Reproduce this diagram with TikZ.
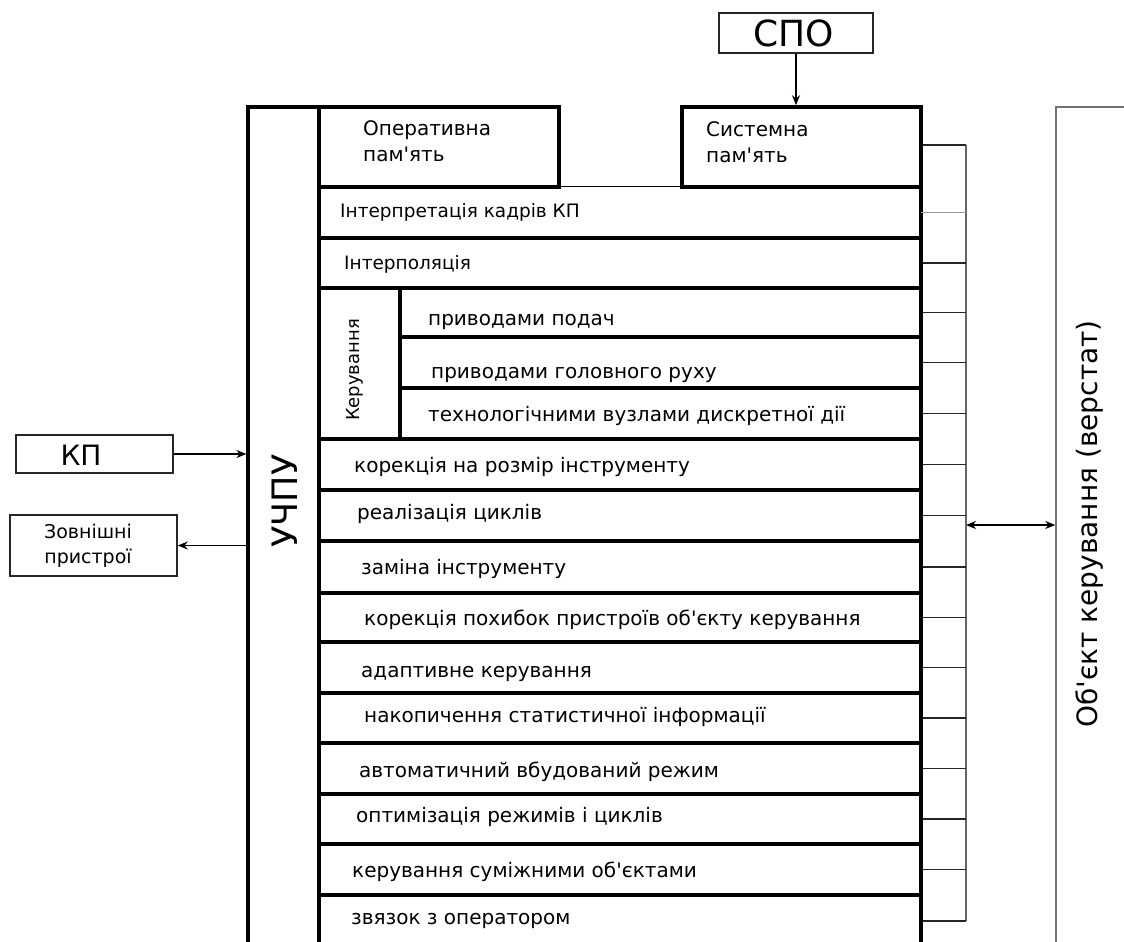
\documentclass[tikz,border=0pt]{standalone}
\usepackage{fontspec}
\newfontfamily\df{DejaVu Sans}
\usetikzlibrary{arrows.meta,fit}
\tikzset{
 bx/.style={draw, rectangle, inner sep=0pt, line width=3.6bp},
 ub/.style={draw, rectangle, inner sep=0pt, line width=3.2bp},
 sb/.style={draw=black!85, rectangle, inner sep=0pt, line width=1.6bp},
 ob/.style={draw=black!55, rectangle, inner sep=0pt, line width=1.5bp},
 tap/.style={draw=black!85, line width=1.6bp},
 ltap/.style={draw=black!40, line width=1.3bp},
 bus/.style={draw=black!60, line width=1.5bp},
 rt/.style={font=\df\fontsize{20bp}{24bp}\selectfont, inner sep=0pt, anchor=base west, yshift=-5.5bp},
 st/.style={font=\df\fontsize{18.5bp}{22bp}\selectfont, inner sep=0pt, anchor=base west, yshift=-5.1bp},
 arr/.style={line width=1.4bp, -{Stealth[length=10bp,width=8bp]}},
 darr/.style={line width=1.4bp, {Stealth[length=10bp,width=8bp]}-{Stealth[length=10bp,width=8bp]}},
}
\begin{document}
\begin{tikzpicture}[x=1bp,y=-1bp]
\useasboundingbox (0,0) rectangle (1124,942);
\clip (0,0) rectangle (1124,942);
\fill[white] (0,0) rectangle (1124,942);

% UCHPU outer block
\node[ub, fit={(248,107) (319,960)}] (uchpu) {};
\node[font=\df\fontsize{35bp}{40bp}\selectfont, rotate=90, inner sep=0pt] (uchput) at (285,501) {УЧПУ};

% memory boxes
\node[bx, fit={(319,107) (559,187)}] (op) {};
\node[font=\df\fontsize{20bp}{26bp}\selectfont, align=left, anchor=west, inner sep=0pt] (opt) at (363,141) {Оперативна\\пам'ять};
\node[bx, fit={(682,107) (921,187)}] (sys) {};
\node[font=\df\fontsize{20bp}{26bp}\selectfont, align=left, anchor=west, inner sep=0pt] (syst) at (706,142) {Системна\\пам'ять};

% SPO
\node[sb, fit={(719,13) (873,53)}] (spo) {};
\node[font=\df\fontsize{36bp}{40bp}\selectfont, inner sep=0pt] (spot) at (794,33) {СПО};
\draw[arr] (spo.south) -- (spo.south |- sys.north);

% row 1 (thin top between memories)
\node[fit={(319,187) (921,238)}, inner sep=0pt] (r1) {};
\draw[line width=1.2bp] (r1.north west) -- (r1.north east);
\draw[line width=3.6bp] (r1.north west) |- (r1.south east) -- (r1.north east);
\node[st] (t1) at (340,212) {Інтерпретація кадрів КП};

\node[bx, fit={(319,238) (921,288)}] (r2) {};
\node[st] (t2) at (344,264) {Інтерполяція};

% Keruvannia group
\node[bx, fit={(319,288) (400,439)}] (kc) {};
\node[font=\df\fontsize{18bp}{22bp}\selectfont, rotate=90, inner sep=0pt] (kct) at (355,370) {Керування};
\node[bx, fit={(400,288) (921,337)}] (r3) {};
\node[rt] (t3) at (428,320) {приводами подач};
\node[bx, fit={(400,337) (921,388)}] (r4) {};
\node[rt] (t4) at (431,373) {приводами головного руху};
\node[bx, fit={(400,388) (921,439)}] (r5) {};
\node[rt] (t5) at (428,416) {технологічними вузлами дискретної дії};

\node[bx, fit={(319,439) (921,490)}] (r6) {};
\node[rt] (t6) at (354,467) {корекція на розмір інструменту};
\node[bx, fit={(319,490) (921,541)}] (r7) {};
\node[rt] (t7) at (357,514) {реалізація циклів};
\node[bx, fit={(319,541) (921,593)}] (r8) {};
\node[rt] (t8) at (361,569) {заміна інструменту};
\node[bx, fit={(319,593) (921,642)}] (r9) {};
\node[rt] (t9) at (364,620) {корекція похибок пристроїв об'єкту керування};
\node[bx, fit={(319,642) (921,693)}] (r10) {};
\node[rt] (t10) at (361,672) {адаптивне керування};
\node[bx, fit={(319,693) (921,743)}] (r11) {};
\node[rt] (t11) at (364,717) {накопичення статистичної інформації};
\node[bx, fit={(319,743) (921,794)}] (r12) {};
\node[rt] (t12) at (359,772) {автоматичний вбудований режим};
\node[bx, fit={(319,794) (921,844)}] (r13) {};
\node[rt] (t13) at (356,817) {оптимізація режимів і циклів};
\node[bx, fit={(319,844) (921,895)}] (r14) {};
\node[rt] (t14) at (352,872) {керування суміжними об'єктами};
\node[bx, fit={(319,895) (921,947)}] (r15) {};
\node[rt] (t15) at (351,919) {звязок з оператором};

% bus
\coordinate (bt) at (966,145);
\coordinate (bb) at (966,921);
\draw[bus] (bt) -- (bb);
\draw[tap] (bt -| sys.east) -- (bt);
\draw[ltap] (r1.east) -- (r1.east -| bt);
\foreach \n in {r2,r3,r4,r5,r6,r7,r8,r9,r10,r11,r12,r13,r14,r15}
  \draw[tap] (\n.east) -- (\n.east -| bt);

% controlled object
\node[ob, fit={(1056,107) (1150,960)}] (obj) {};
\node[font=\df\fontsize{28bp}{32bp}\selectfont, rotate=90, inner sep=0pt] (objt) at (1090,524) {Об'єкт керування (верстат)};
\coordinate (bm) at (966,525);
\draw[darr] (bm) -- (bm -| obj.west);

% KP
\node[sb, fit={(16,435) (173,473)}] (kp) {};
\node[font=\df\fontsize{28bp}{32bp}\selectfont, inner sep=0pt] (kpt) at (81,455) {КП};
\draw[arr] (kp.east) -- (kp.east -| uchpu.west);

% external devices
\node[sb, fit={(10,515) (177,576)}] (zp) {};
\node[font=\df\fontsize{19bp}{25bp}\selectfont, align=center, inner sep=0pt] (zpt) at (88,546) {Зовнішні\\пристрої};
\draw[arr] (zp.east -| uchpu.west) -- (zp.east);
\end{tikzpicture}
\end{document}
